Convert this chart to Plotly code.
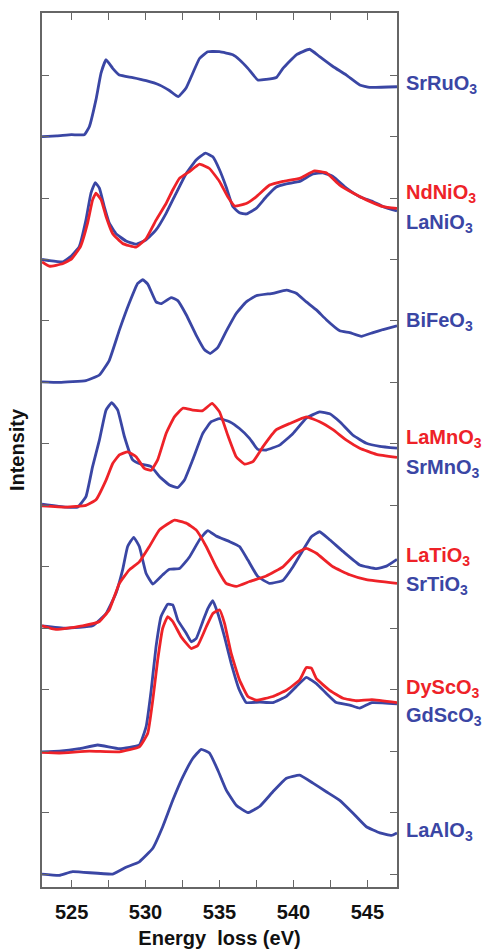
import plotly.graph_objects as go

# Energy loss (eV) vs stacked intensity (arb. units)
SRRUO3 = [(523,12.0),(524,12.01),(525,12.03),(525.86,12.03),(526.2,12.16),(526.65,12.6),(526.99,13.03),(527.33,13.25),(527.78,13.11),(528.23,13.0),(529.13,12.96),(530.04,12.91),(530.94,12.84),(531.61,12.75),(532.22,12.65),(532.74,12.79),(533.19,13.03),(533.65,13.27),(534.21,13.38),(535.0,13.38),(535.9,13.33),(536.35,13.25),(536.92,13.11),(537.59,12.92),(538.16,12.93),(538.84,12.96),(539.29,13.11),(540.19,13.33),(541.09,13.42),(541.77,13.3),(542.67,13.14),(543.58,13.0),(544.48,12.84),(545.16,12.8),(547.0,12.81)]
LANIO3 = [(523,10.0),(523.5,9.98),(524.39,9.96),(524.96,10.05),(525.52,10.21),(525.97,10.64),(526.31,11.08),(526.6,11.25),(526.88,11.16),(527.21,10.86),(527.55,10.59),(528.0,10.42),(528.68,10.3),(529.36,10.25),(530.04,10.32),(530.71,10.48),(531.39,10.75),(532.07,11.08),(532.75,11.4),(533.42,11.62),(534.05,11.73),(534.55,11.67),(535.0,11.46),(535.45,11.18),(535.9,10.86),(536.35,10.76),(536.81,10.74),(537.48,10.83),(538.16,11.02),(538.84,11.18),(539.52,11.23),(540.42,11.27),(541.32,11.39),(542.0,11.41),(542.67,11.35),(543.58,11.16),(544.48,11.02),(545.38,10.94),(546.06,10.86),(547.0,10.79)]
NDNIO3 = [(523,9.96),(523.5,9.89),(524.39,9.93),(525.0,10.01),(525.6,10.21),(526.08,10.59),(526.42,10.97),(526.65,11.08),(527.0,10.97),(527.33,10.7),(527.78,10.42),(528.45,10.26),(529.36,10.2),(530.04,10.34),(530.71,10.64),(531.39,10.91),(531.84,11.13),(532.29,11.32),(532.97,11.43),(533.65,11.55),(534.32,11.48),(535.0,11.27),(535.56,11.02),(536.02,10.87),(536.81,10.91),(537.48,11.02),(538.39,11.21),(539.29,11.27),(540.42,11.32),(541.43,11.44),(542.22,11.41),(543.13,11.21),(544.03,11.08),(544.93,10.97),(546.06,10.86),(547.0,10.83)]
BIFEO3 = [(523,8.01),(524.17,8.0),(525.97,8.03),(526.88,8.12),(527.55,8.36),(528.23,8.85),(528.9,9.29),(529.47,9.61),(529.81,9.67),(530.15,9.6),(530.71,9.31),(531.05,9.28),(531.73,9.38),(532.18,9.33),(532.75,9.1),(533.42,8.77),(533.99,8.53),(534.37,8.47),(534.89,8.57),(535.45,8.83),(536.13,9.12),(536.81,9.31),(537.48,9.41),(538.61,9.45),(539.52,9.5),(540.19,9.45),(540.87,9.31),(541.55,9.18),(542.22,9.02),(543.13,8.84),(543.8,8.81),(544.59,8.75),(545.38,8.81),(546.06,8.86),(547.0,8.92)]
SRMNO3 = [(523,6.02),(524.62,5.97),(525.4,5.97),(525.97,6.14),(526.42,6.63),(526.88,7.06),(527.33,7.55),(527.71,7.67),(528.12,7.55),(528.57,7.12),(529.13,6.74),(529.7,6.67),(530.38,6.63),(530.94,6.47),(531.61,6.33),(532.18,6.29),(532.63,6.41),(533.19,6.74),(533.87,7.17),(534.44,7.36),(535.0,7.41),(535.68,7.36),(536.35,7.25),(537.03,7.09),(537.59,6.91),(538.16,6.9),(539.06,6.98),(539.97,7.17),(540.87,7.42),(541.77,7.52),(542.45,7.49),(543.13,7.36),(544.03,7.14),(544.93,7.01),(545.84,6.96),(547.0,6.93)]
LAMNO3 = [(523,5.99),(524.62,5.97),(525.97,6.0),(526.65,6.09),(527.33,6.41),(527.78,6.68),(528.23,6.82),(528.79,6.87),(529.36,6.79),(529.92,6.6),(530.38,6.57),(530.82,6.74),(531.39,7.17),(531.95,7.44),(532.52,7.58),(533.19,7.55),(533.87,7.54),(534.5,7.66),(535.0,7.52),(535.56,7.14),(536.13,6.79),(536.69,6.67),(537.26,6.71),(537.93,6.95),(538.84,7.23),(539.74,7.33),(540.87,7.44),(541.77,7.36),(542.67,7.23),(543.58,7.06),(544.48,6.93),(545.61,6.83),(547.0,6.78)]
SRTIO3 = [(523,4.04),(524.62,4.0),(526.42,4.04),(527.33,4.24),(528.0,4.57),(528.45,4.95),(528.79,5.33),(529.2,5.48),(529.58,5.33),(530.04,4.89),(530.49,4.72),(531.16,4.87),(531.61,4.96),(532.29,4.97),(532.97,5.16),(533.65,5.44),(534.21,5.59),(534.77,5.5),(535.68,5.41),(536.35,5.33),(536.92,5.11),(537.59,4.84),(538.39,4.73),(539.29,4.78),(539.97,5.0),(540.64,5.27),(541.21,5.49),(541.77,5.57),(542.45,5.44),(543.35,5.25),(544.48,5.03),(545.61,4.97),(546.29,5.01),(547.0,5.12)]
LATIO3 = [(523,4.04),(523.95,3.98),(525.75,4.04),(526.88,4.11),(527.55,4.3),(528.23,4.73),(528.9,4.95),(529.58,5.08),(530.26,5.33),(530.94,5.6),(531.95,5.76),(532.75,5.71),(533.42,5.6),(534.1,5.33),(534.77,5.0),(535.45,4.73),(536.13,4.68),(537.03,4.76),(538.16,4.85),(539.29,5.0),(540.19,5.22),(540.87,5.3),(541.55,5.22),(542.67,5.0),(543.8,4.87),(544.93,4.79),(547.0,4.73)]
GDSCO3 = [(523,1.99),(524.17,2.0),(525.52,2.04),(526.76,2.1),(528.23,2.04),(529.58,2.1),(530.04,2.4),(530.38,2.99),(530.71,3.7),(531.05,4.19),(531.5,4.39),(531.84,4.38),(532.18,4.13),(532.75,3.92),(533.09,3.78),(533.42,3.83),(533.87,4.11),(534.21,4.32),(534.55,4.45),(534.89,4.24),(535.34,3.86),(535.79,3.43),(536.35,2.99),(536.81,2.79),(537.71,2.8),(538.61,2.79),(539.52,2.89),(540.19,3.05),(540.87,3.2),(541.55,3.1),(542.22,2.94),(542.9,2.79),(543.8,2.75),(544.48,2.7),(545.3,2.79),(547.0,2.77)]
DYSCO3 = [(523,1.98),(524.17,1.97),(526.2,2.0),(528.23,1.99),(529.58,2.07),(530.15,2.29),(530.49,2.83),(530.82,3.48),(531.16,4.0),(531.5,4.19),(531.84,4.11),(532.41,3.86),(533.09,3.67),(533.53,3.72),(534.1,4.02),(534.55,4.24),(535.0,4.3),(535.34,4.08),(535.79,3.59),(536.35,3.16),(536.92,2.89),(537.48,2.83),(538.61,2.89),(539.52,2.99),(540.42,3.16),(540.87,3.36),(541.21,3.35),(541.55,3.18),(542.45,2.99),(543.35,2.86),(544.25,2.82),(545.3,2.84),(547.0,2.79)]
LAALO3 = [(523,0.0),(524.17,-0.02),(525.07,0.04),(527.78,0.0),(528.68,0.11),(529.58,0.2),(530.49,0.42),(531.16,0.77),(531.84,1.2),(532.52,1.58),(533.19,1.88),(533.76,2.03),(534.32,1.97),(534.89,1.69),(535.45,1.37),(536.13,1.12),(536.92,1.0),(537.71,1.1),(538.61,1.34),(539.52,1.56),(540.42,1.61),(541.32,1.48),(542.22,1.34),(543.13,1.2),(544.03,0.99),(544.93,0.77),(545.84,0.67),(546.63,0.63),(547.0,0.67)]

# (series, name, colour key, label y position)
SERIES = [
    (SRRUO3, "SrRu", "blue", 12.84),
    (LANIO3, "LaNi", "blue", 10.59),
    (NDNIO3, "NdNi", "red", 11.08),
    (BIFEO3, "BiFe", "blue", 8.99),
    (SRMNO3, "SrMn", "blue", 6.60),
    (LAMNO3, "LaMn", "red", 7.09),
    (SRTIO3, "SrTi", "blue", 4.70),
    (LATIO3, "LaTi", "red", 5.16),
    (GDSCO3, "GdSc", "blue", 2.56),
    (DYSCO3, "DySc", "red", 3.02),
    (LAALO3, "LaAl", "blue", 0.70),
]

X_TICKS = [525, 527.5, 530, 532.5, 535, 537.5, 540, 542.5, 545]
X_TICK_TEXT = ["525", "", "530", "", "535", "", "540", "", "545"]
Y_TICKS = list(range(0, 15))

COLORS = {"blue": "#3a46a4", "red": "#ee2228"}
FONT = "Liberation Sans, Arial, Helvetica, sans-serif"

fig = go.Figure()
for data, name, ckey, ly in SERIES:
    xs = [p[0] for p in data]
    ys = [p[1] for p in data]
    fig.add_trace(go.Scatter(x=xs, y=ys, mode="lines", name=name + "O3",
                             line=dict(color=COLORS[ckey], width=2.8, shape="spline", smoothing=0.35),
                             showlegend=False, hoverinfo="skip"))
    fig.add_annotation(xref="paper", yref="y", x=1.02, y=ly, xanchor="left", yanchor="middle",
                       text=name + "O<sub>3</sub>", showarrow=False,
                       font=dict(family=FONT, size=20, color=COLORS[ckey], weight="bold"))

axis_common = dict(showline=True, linecolor="#666666", linewidth=1.6, mirror="ticks",
                   ticks="inside", ticklen=7, tickwidth=1.4, tickcolor="#666666",
                   showgrid=False, zeroline=False, automargin=False)

fig.update_xaxes(range=[523, 547], tickvals=X_TICKS, ticktext=X_TICK_TEXT,
                 tickfont=dict(family=FONT, size=20, color="#111111", weight="bold"),
                 title=dict(text="Energy  loss (eV)", font=dict(family=FONT, size=20, color="#111111", weight="bold"), standoff=9),
                 ticklabelstandoff=6,
                 **axis_common)
fig.update_yaxes(range=[-0.21, 14.01], tickvals=Y_TICKS, showticklabels=False,
                 title=dict(text="Intensity", font=dict(family=FONT, size=20, color="#111111", weight="bold"), standoff=10),
                 **axis_common)

fig.update_layout(width=488, height=949, margin=dict(l=42, r=91, t=13, b=62, autoexpand=False),
                  paper_bgcolor="white", plot_bgcolor="white")

fig.write_html("out.html", config={"displayModeBar": False},
               post_script="document.body.style.margin='0';document.body.style.overflow='hidden';")
